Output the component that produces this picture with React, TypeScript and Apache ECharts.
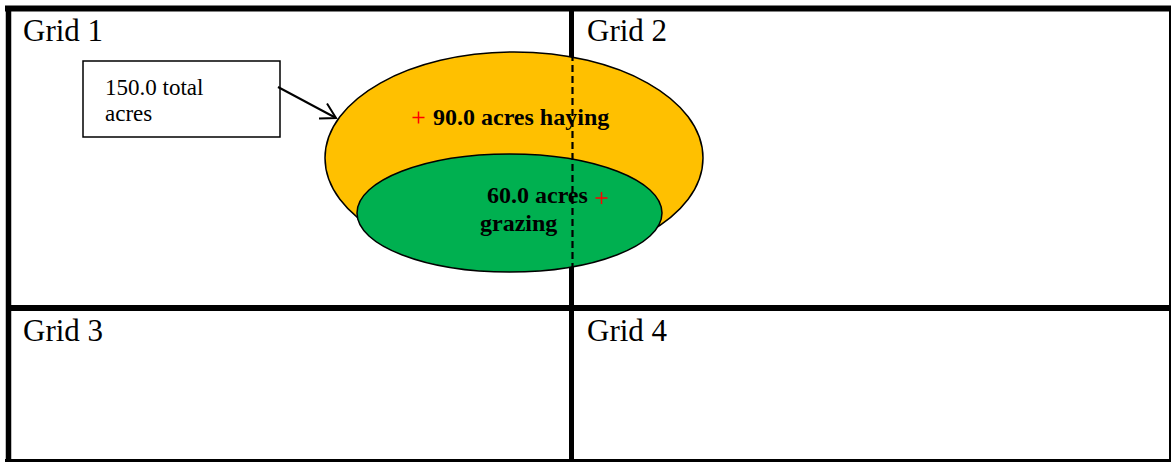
import React, { useEffect, useRef } from "react";
import * as echarts from "echarts";

// ---- data ----
const gridLabels: string[] = ["Grid 1", "Grid 2", "Grid 3", "Grid 4"];
const totalAcres: number[] = [150.0];
const landUses: string[] = ["haying", "grazing"];
const landUseAcres: number[] = [90.0, 60.0];

const FONT = '"Liberation Serif", "Times New Roman", serif';

function textEl(text: string, x: number, baseline: number, size: number, bold = false, fill = "#000") {
  return {
    type: "text",
    z: 20,
    style: {
      text,
      x,
      y: baseline - 0.34 * size,
      font: `${bold ? "bold " : ""}${size}px ${FONT}`,
      fill,
      align: "left",
      verticalAlign: "middle",
    },
  };
}

function plusEl(cx: number, cy: number, half: number) {
  return [
    { type: "line", z: 21, shape: { x1: cx - half, y1: cy, x2: cx + half, y2: cy }, style: { stroke: "#FF0000", lineWidth: 1.5 } },
    { type: "line", z: 21, shape: { x1: cx, y1: cy - half, x2: cx, y2: cy + half }, style: { stroke: "#FF0000", lineWidth: 1.5 } },
  ];
}

export default function App() {
  const ref = useRef<HTMLDivElement>(null);
  useEffect(() => {
    if (!ref.current) return;
    const chart = echarts.init(ref.current, undefined, { renderer: "svg" });

    const W = 1171;
    const H = 462;
    const black = "#000";
    const lines = [
      // outer frame
      { x1: 5, y1: 8.5, x2: W, y2: 8.5, w: 6 },
      { x1: 8.5, y1: 6, x2: 8.5, y2: H, w: 5.5 },
      { x1: 1171.5, y1: 6, x2: 1171.5, y2: H, w: 5 },
      { x1: 5, y1: 462, x2: W, y2: 462, w: 6 },
      // dividers
      { x1: 571.5, y1: 8, x2: 571.5, y2: H, w: 5 },
      { x1: 8, y1: 308, x2: W, y2: 308, w: 6 },
    ];

    const arrowTip = { x: 336, y: 118 };
    const arrowStart = { x: 278, y: 87 };
    const ang = Math.atan2(arrowTip.y - arrowStart.y, arrowTip.x - arrowStart.x);
    const headLen = 17;
    const a1 = ang + Math.PI - Math.PI / 6;
    const a2 = ang + Math.PI + Math.PI / 6;

    const gridPos = [
      { x: 23, b: 41 },
      { x: 587, b: 41 },
      { x: 23, b: 341 },
      { x: 587, b: 341 },
    ];

    const graphic: any[] = [
      { type: "rect", z: 0, shape: { x: 0, y: 0, width: W, height: H }, style: { fill: "#fff" } },
      ...lines.map((l) => ({
        type: "line",
        z: 1,
        shape: { x1: l.x1, y1: l.y1, x2: l.x2, y2: l.y2 },
        style: { stroke: black, lineWidth: l.w },
      })),
      ...gridLabels.map((g, i) => textEl(g, gridPos[i].x, gridPos[i].b, 31)),
      // callout box
      { type: "rect", z: 5, shape: { x: 83, y: 61, width: 197, height: 76 }, style: { fill: "#fff", stroke: black, lineWidth: 1.5 } },
      textEl(`${totalAcres[0].toFixed(1)} total`, 105, 95, 23),
      textEl("acres", 105, 121, 23),
      // arrow
      {
        type: "line",
        z: 6,
        shape: { x1: arrowStart.x, y1: arrowStart.y, x2: arrowTip.x, y2: arrowTip.y },
        style: { stroke: black, lineWidth: 2 },
      },
      {
        type: "polyline",
        z: 6,
        shape: {
          points: [
            [arrowTip.x + headLen * Math.cos(a1), arrowTip.y + headLen * Math.sin(a1)],
            [arrowTip.x, arrowTip.y],
            [arrowTip.x + headLen * Math.cos(a2), arrowTip.y + headLen * Math.sin(a2)],
          ],
        },
        style: { stroke: black, lineWidth: 2, fill: null },
      },
      // ellipses
      { type: "ellipse", z: 10, shape: { cx: 514, cy: 158, rx: 189, ry: 106 }, style: { fill: "#FFC000", stroke: black, lineWidth: 1.5 } },
      { type: "ellipse", z: 11, shape: { cx: 509.5, cy: 213, rx: 152.5, ry: 59 }, style: { fill: "#00B050", stroke: black, lineWidth: 1.5 } },
      // dashed divider through the ellipses
      {
        type: "line",
        z: 12,
        shape: { x1: 572.5, y1: 54, x2: 572.5, y2: 270 },
        style: { stroke: black, lineWidth: 2.2, lineDash: [7, 4] },
      },
      textEl(`${landUseAcres[0].toFixed(1)} acres ${landUses[0]}`, 433, 125, 24, true),
      textEl(`${landUseAcres[1].toFixed(1)} acres`, 487, 203, 24, true),
      textEl(landUses[1], 480, 231, 24, true),
      ...plusEl(418.5, 117.5, 6),
      ...plusEl(601.5, 198, 6),
    ];

    chart.setOption({
      animation: false,
      backgroundColor: "#fff",
      graphic,
    });
    return () => chart.dispose();
  }, []);

  return (
    <div
      ref={ref}
      style={{ position: "absolute", left: 0, top: 0, width: 1171, height: 462 }}
    />
  );
}
